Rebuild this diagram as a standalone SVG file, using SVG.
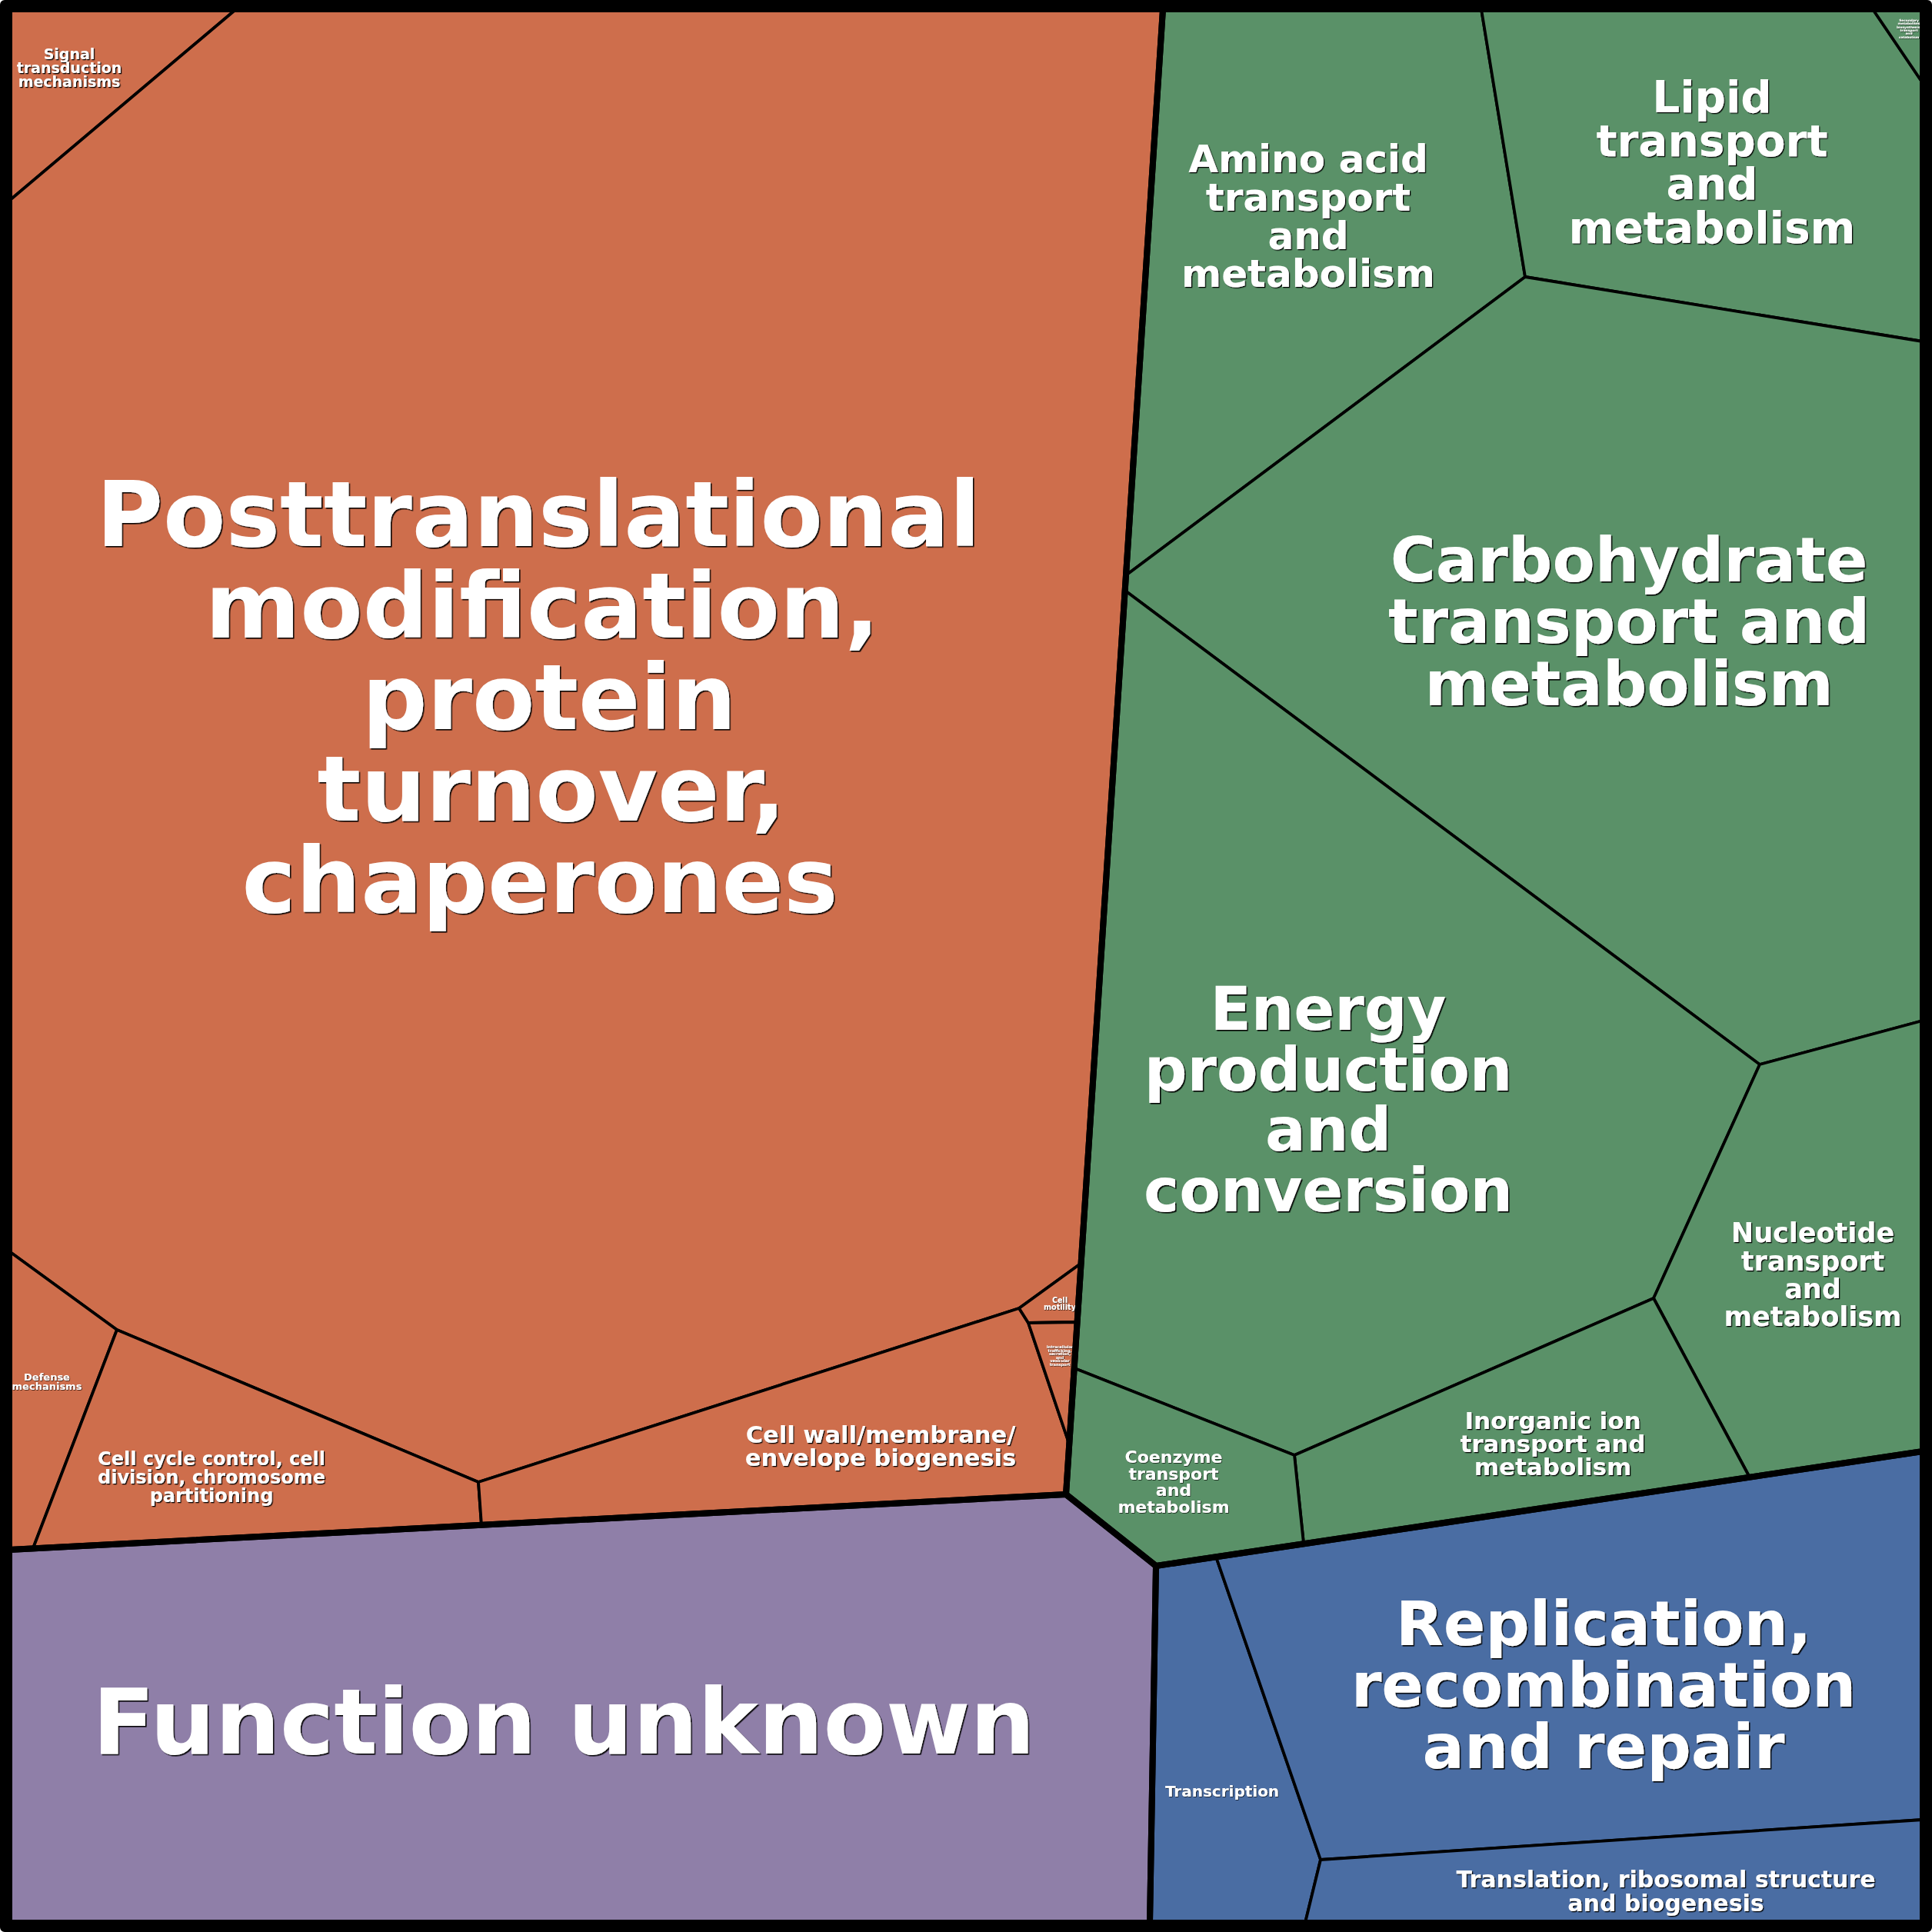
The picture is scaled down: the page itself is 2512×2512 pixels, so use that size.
<svg xmlns="http://www.w3.org/2000/svg" width="2512" height="2512" viewBox="0 0 2512 2512">
<defs>
<style>
.c{stroke:#000;stroke-width:3.8;stroke-linejoin:round}
.o{fill:#CE6E4C}
.g{fill:#5A9168}
.b{fill:#4A6DA3}
.p{fill:#8F7FA8}
.grp{fill:none;stroke:#000;stroke-width:8;stroke-linejoin:round}
text{font-family:"DejaVu Sans","Liberation Sans",sans-serif;font-weight:bold;fill:#fff;text-anchor:middle}
.sL{filter:url(#shL)}
.sM{filter:url(#shM)}
.sS{filter:url(#shS)}
</style>
<filter id="shL" x="-5%" y="-10%" width="110%" height="130%"><feDropShadow dx="1.6" dy="1.6" stdDeviation="0.3" flood-color="#000" flood-opacity="0.95"/></filter>
<filter id="shM" x="-5%" y="-10%" width="110%" height="130%"><feDropShadow dx="1.3" dy="1.3" stdDeviation="0.3" flood-color="#000" flood-opacity="0.95"/></filter>
<filter id="shS" x="-5%" y="-10%" width="110%" height="130%"><feDropShadow dx="0.7" dy="0.7" stdDeviation="0.2" flood-color="#000" flood-opacity="0.9"/></filter>
</defs>
<rect width="2512" height="2512" fill="#fff"/>

<g id="signal-transduction">
<polygon class="c o" points="12,12 307,12 12,261"/>
<text class="sM" font-size="19"><tspan x="90" y="77">Signal</tspan><tspan x="90" y="95">transduction</tspan><tspan x="90" y="113">mechanisms</tspan></text>
</g>
<g id="posttranslational">
<polygon class="c o" points="307,12 1512,12 1405,1643 1325,1701 622,1927 152,1729 12,1627 12,261"/>
<text class="sL" font-size="118.5"><tspan x="700" y="710">Posttranslational</tspan><tspan x="705" y="829">modification,</tspan><tspan x="714" y="948">protein</tspan><tspan x="717" y="1067">turnover,</tspan><tspan x="702" y="1186">chaperones</tspan></text>
</g>
<g id="defense">
<polygon class="c o" points="12,1627 152,1729 43,2013 12,2015"/>
<text class="sS" font-size="13"><tspan x="61" y="1795">Defense</tspan><tspan x="61" y="1807">mechanisms</tspan></text>
</g>
<g id="cell-cycle">
<polygon class="c o" points="152,1729 622,1927 626,1983 43,2013"/>
<text class="sM" font-size="24"><tspan x="275" y="1905">Cell cycle control, cell</tspan><tspan x="275" y="1929">division, chromosome</tspan><tspan x="275" y="1953">partitioning</tspan></text>
</g>
<g id="cell-wall">
<polygon class="c o" points="622,1927 1325,1701 1337,1720 1390,1877 1386,1943 626,1983"/>
<text class="sM" font-size="30.5"><tspan x="1145" y="1876">Cell wall/membrane/</tspan><tspan x="1145" y="1906">envelope biogenesis</tspan></text>
</g>
<g id="cell-motility">
<polygon class="c o" points="1325,1701 1405,1643 1400,1719 1337,1720"/>
<text class="sS" font-size="9.6"><tspan x="1378" y="1694">Cell</tspan><tspan x="1378" y="1703">motility</tspan></text>
</g>
<g id="intracellular-trafficking">
<polygon class="c o" points="1337,1720 1400,1719 1390,1877"/>
<text class="sS" font-size="5"><tspan x="1378" y="1753">Intracellular</tspan><tspan x="1378" y="1757.6">trafficking,</tspan><tspan x="1378" y="1762.2">secretion,</tspan><tspan x="1378" y="1766.8">and</tspan><tspan x="1378" y="1771.4">vesicular</tspan><tspan x="1378" y="1776">transport</tspan></text>
</g>

<g id="amino-acid">
<polygon class="c g" points="1512,12 1926,12 1983,360 1464,748"/>
<text class="sM" font-size="50"><tspan x="1701" y="224">Amino acid</tspan><tspan x="1701" y="274">transport</tspan><tspan x="1701" y="324">and</tspan><tspan x="1701" y="373">metabolism</tspan></text>
</g>
<g id="lipid">
<polygon class="c g" points="1926,12 2435,12 2500,108 2500,444 1983,360"/>
<text class="sM" font-size="56.5"><tspan x="2226" y="146">Lipid</tspan><tspan x="2226" y="203">transport</tspan><tspan x="2226" y="259">and</tspan><tspan x="2226" y="316">metabolism</tspan></text>
</g>
<g id="secondary-metabolites">
<polygon class="c g" points="2435,12 2500,12 2500,108"/>
<text class="sS" font-size="4.3"><tspan x="2482" y="28">Secondary</tspan><tspan x="2482" y="32.3">metabolites</tspan><tspan x="2482" y="36.6">biosynthesis,</tspan><tspan x="2482" y="40.9">transport</tspan><tspan x="2482" y="45.2">and</tspan><tspan x="2482" y="49.5">catabolism</tspan></text>
</g>
<g id="carbohydrate">
<polygon class="c g" points="1983,360 2500,444 2500,1327 2288,1384 1463,768 1464,748"/>
<text class="sL" font-size="80.5"><tspan x="2118" y="756">Carbohydrate</tspan><tspan x="2118" y="836">transport and</tspan><tspan x="2118" y="917">metabolism</tspan></text>
</g>
<g id="energy">
<polygon class="c g" points="1463,768 2288,1384 2150,1688 1683,1892 1397,1779"/>
<text class="sL" font-size="78"><tspan x="1727" y="1339">Energy</tspan><tspan x="1727" y="1418">production</tspan><tspan x="1727" y="1496">and</tspan><tspan x="1727" y="1575">conversion</tspan></text>
</g>
<g id="nucleotide">
<polygon class="c g" points="2288,1384 2500,1327 2500,1887 2275,1921 2150,1688"/>
<text class="sM" font-size="35"><tspan x="2357" y="1615">Nucleotide</tspan><tspan x="2357" y="1652">transport</tspan><tspan x="2357" y="1688">and</tspan><tspan x="2357" y="1724">metabolism</tspan></text>
</g>
<g id="inorganic-ion">
<polygon class="c g" points="2150,1688 2275,1921 1695,2007 1683,1892"/>
<text class="sM" font-size="31"><tspan x="2019" y="1858">Inorganic ion</tspan><tspan x="2019" y="1888">transport and</tspan><tspan x="2019" y="1918">metabolism</tspan></text>
</g>
<g id="coenzyme">
<polygon class="c g" points="1397,1779 1683,1892 1695,2007 1503,2036 1386,1943"/>
<text class="sS" font-size="22"><tspan x="1526" y="1902">Coenzyme</tspan><tspan x="1526" y="1923.5">transport</tspan><tspan x="1526" y="1945">and</tspan><tspan x="1526" y="1967">metabolism</tspan></text>
</g>

<g id="transcription">
<polygon class="c b" points="1503,2036 1581,2024 1717,2418 1697,2500 1495,2500"/>
<text class="sS" font-size="20"><tspan x="1589" y="2336">Transcription</tspan></text>
</g>
<g id="replication">
<polygon class="c b" points="1581,2024 2500,1887 2500,2366 1717,2418"/>
<text class="sL" font-size="80.5"><tspan x="2085" y="2139">Replication,</tspan><tspan x="2085" y="2219">recombination</tspan><tspan x="2085" y="2299">and repair</tspan></text>
</g>
<g id="translation">
<polygon class="c b" points="1717,2418 2500,2366 2500,2500 1697,2500"/>
<text class="sM" font-size="30"><tspan x="2166" y="2454">Translation, ribosomal structure</tspan><tspan x="2166" y="2485">and biogenesis</tspan></text>
</g>

<g id="function-unknown">
<polygon class="c p" points="12,2015 1386,1943 1503,2036 1495,2500 12,2500"/>
<text class="sL" font-size="118.5"><tspan x="733" y="2280">Function unknown</tspan></text>
</g>

<g id="group-borders">
<polygon class="grp" points="12,12 1512,12 1386,1943 12,2015"/>
<polygon class="grp" points="1512,12 2500,12 2500,1887 1503,2036 1386,1943"/>
<polygon class="grp" points="1503,2036 2500,1887 2500,2500 1495,2500"/>
<polygon class="grp" points="12,2015 1386,1943 1503,2036 1495,2500 12,2500"/>
<rect x="6" y="6" width="2500" height="2500" fill="none" stroke="#000" stroke-width="12" stroke-linejoin="round"/>
</g>
</svg>
